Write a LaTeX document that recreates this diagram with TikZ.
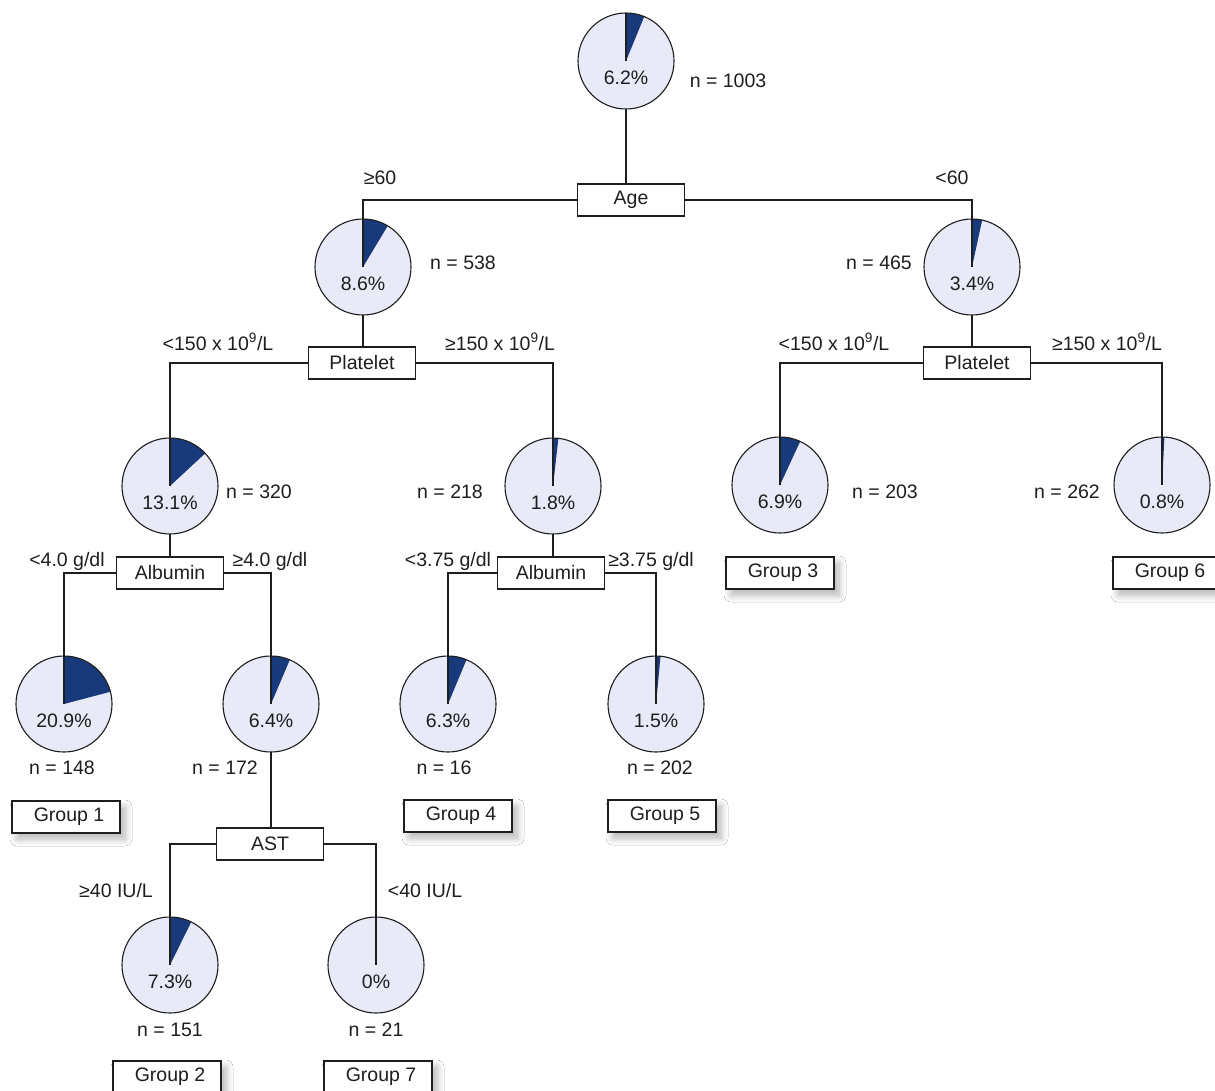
\documentclass[tikz,border=0pt]{standalone}
\usepackage{fontspec}
\setmainfont{Liberation Sans}
\usetikzlibrary{shadows.blur}
\definecolor{piefill}{RGB}{232,234,247}
\definecolor{wedgecol}{RGB}{24,58,122}
\definecolor{ink}{RGB}{30,30,30}
\newcommand\piechart[5]{%
  \node[pienode] (#1) at (#2,#3) {};
  \fill[wedgecol] (#1.center) -- (#1.north) arc[start angle=90, end angle={90-3.6*#4}, radius=48pt] -- cycle;
  \draw[ink, line width=1.1pt] (#1.north) -- (#1.center);
  \draw[ink, line width=1.1pt] (#1.center) circle[radius=48pt];
  \node[txt] (#1t) at ([yshift=-17pt]#1.center) {#5};
}
\begin{document}
\begin{tikzpicture}[x=1pt, y=-1pt,
  pienode/.style={circle, fill=piefill, minimum size=96pt, inner sep=0pt, outer sep=0pt},
  txt/.style={font=\fontsize{19.5}{23}\selectfont, text=ink, inner sep=0pt},
  dec/.style={rectangle, draw=ink, fill=white, line width=1.1pt, minimum width=107pt, minimum height=32pt, inner sep=0pt, outer sep=0pt, font=\fontsize{19.5}{23}\selectfont, text=ink},
  grp/.style={dec, minimum width=108pt, blur shadow={shadow xshift=5pt, shadow yshift=-6pt, shadow blur radius=7pt, shadow blur steps=10, shadow opacity=30}},
  conn/.style={draw=ink, line width=1.1pt}]
\useasboundingbox[fill=white] (0,0) rectangle (1215,1091);

% root
\piechart{r}{626}{61}{6.2}{6.2\%}
\node[txt] (n1003) at (728,81) {n = 1003};
\node[dec] (age) at (631,200) {Age};
\node[txt] (ge60) at (380,178) {≥60};
\node[txt] (lt60) at (952,178) {<60};

% level 1
\piechart{L}{363}{267}{8.6}{8.6\%}
\node[txt] (n538) at (463,263) {n = 538};
\piechart{R}{972}{267}{3.4}{3.4\%}
\node[txt] (n465) at (879,263) {n = 465};
\node[dec] (platL) at (362,363) {Platelet};
\node[dec] (platR) at (977,363) {Platelet};
\node[txt] (pl1) at (218,342) {<150 x 10\textsuperscript{9}/L};
\node[txt] (pl2) at (500,342) {≥150 x 10\textsuperscript{9}/L};
\node[txt] (pl3) at (834,342) {<150 x 10\textsuperscript{9}/L};
\node[txt] (pl4) at (1107,342) {≥150 x 10\textsuperscript{9}/L};

% level 2
\piechart{LL}{170}{486}{13.1}{13.1\%}
\node[txt] (n320) at (259,492) {n = 320};
\piechart{LR}{553}{486}{1.8}{1.8\%}
\node[txt] (n218) at (450,492) {n = 218};
\piechart{RL}{780}{485}{6.9}{6.9\%}
\node[txt] (n203) at (885,492) {n = 203};
\piechart{RR}{1162}{485}{0.8}{0.8\%}
\node[txt] (n262) at (1067,492) {n = 262};
\node[grp] (g3) at (780,573) {\hspace*{6pt}Group 3};
\node[grp] (g6) at (1167,573) {\hspace*{6pt}Group 6};
\node[dec] (albL) at (170,573) {Albumin};
\node[dec] (albR) at (551,573) {Albumin};
\node[txt] (al1) at (67,561) {<4.0 g/dl};
\node[txt] (al2) at (270,561) {≥4.0 g/dl};
\node[txt] (al3) at (448,561) {<3.75 g/dl};
\node[txt] (al4) at (651,561) {≥3.75 g/dl};

% level 3
\piechart{LLL}{64}{704}{20.9}{20.9\%}
\node[txt] (n148) at (62,768) {n = 148};
\piechart{LLR}{271}{704}{6.4}{6.4\%}
\node[txt] (n172) at (225,768) {n = 172};
\piechart{LRL}{448}{704}{6.3}{6.3\%}
\node[txt] (n16) at (444,768) {n = 16};
\piechart{LRR}{656}{704}{1.5}{1.5\%}
\node[txt] (n202) at (660,768) {n = 202};
\node[grp] (g1) at (66,817) {\hspace*{6pt}Group 1};
\node[grp] (g4) at (458,816) {\hspace*{6pt}Group 4};
\node[grp] (g5) at (662,816) {\hspace*{6pt}Group 5};
\node[dec] (ast) at (270,844) {AST};
\node[txt] (as1) at (116,891) {≥40 IU/L};
\node[txt] (as2) at (425,891) {<40 IU/L};

% level 4
\piechart{A1}{170}{965}{7.3}{7.3\%}
\node[txt] (n151) at (170,1030) {n = 151};
\piechart{A2}{376}{965}{0}{0\%}
\node[txt] (n21) at (376,1030) {n = 21};
\node[grp] (g2) at (167,1077) {\hspace*{6pt}Group 2};
\node[grp] (g7) at (378,1077) {\hspace*{6pt}Group 7};

% connectors
\draw[conn] (r.south) -- (r.south |- age.north);
\draw[conn] (age.west) -| (L.north);
\draw[conn] (age.east) -| (R.north);
\draw[conn] (L.south) -- (L.south |- platL.north);
\draw[conn] (R.south) -- (R.south |- platR.north);
\draw[conn] (platL.west) -| (LL.north);
\draw[conn] (platL.east) -| (LR.north);
\draw[conn] (platR.west) -| (RL.north);
\draw[conn] (platR.east) -| (RR.north);
\draw[conn] (LL.south) -- (LL.south |- albL.north);
\draw[conn] (LR.south) -- (LR.south |- albR.north);
\draw[conn] (albL.west) -| (LLL.north);
\draw[conn] (albL.east) -| (LLR.north);
\draw[conn] (albR.west) -| (LRL.north);
\draw[conn] (albR.east) -| (LRR.north);
\draw[conn] (LLR.south) -- (LLR.south |- ast.north);
\draw[conn] (ast.west) -| (A1.north);
\draw[conn] (ast.east) -| (A2.north);
\end{tikzpicture}
\end{document}
